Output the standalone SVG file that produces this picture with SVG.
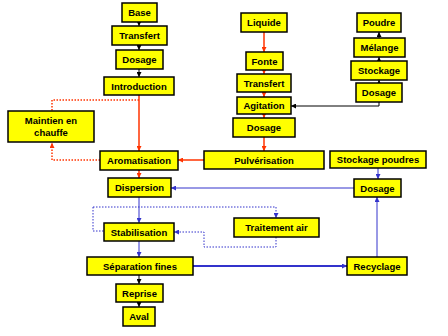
<svg xmlns="http://www.w3.org/2000/svg" width="448" height="336" viewBox="0 0 448 336">
<style>
.n rect{fill:#ffff00;stroke:#000;stroke-width:1.5}
.n text{font-family:"Liberation Sans",Arial,sans-serif;font-weight:bold;font-size:9.5px;text-anchor:middle;fill:#000}
.k{stroke:#000;stroke-width:1;fill:none}
.r{stroke:#ff3300;stroke-width:1.5;fill:none}
.rd{stroke:#ff3300;stroke-width:1.5;fill:none;stroke-dasharray:1.5 1.5}
.b{stroke:#3333cc;stroke-width:1;fill:none}
.bt{stroke:#3333cc;stroke-width:2;fill:none}
.bd{stroke:#3333cc;stroke-width:1;fill:none;stroke-dasharray:1.5 1.5}
</style>
<defs>
<marker id="ak" markerWidth="5" markerHeight="5" refX="5" refY="2.5" orient="auto" markerUnits="userSpaceOnUse"><path d="M0,0L5,2.5L0,5z" fill="#000"/></marker>
<marker id="ar" markerWidth="5" markerHeight="5" refX="5" refY="2.5" orient="auto" markerUnits="userSpaceOnUse"><path d="M0,0L5,2.5L0,5z" fill="#ff3300"/></marker>
<marker id="ab" markerWidth="5" markerHeight="5" refX="5" refY="2.5" orient="auto" markerUnits="userSpaceOnUse"><path d="M0,0L5,2.5L0,5z" fill="#3333cc"/></marker>
</defs>
<rect width="448" height="336" fill="#fff"/>
<g id="connectors">
<path class="k" d="M139,22V26" marker-end="url(#ak)"/>
<path class="k" d="M139,45V50" marker-end="url(#ak)"/>
<path class="k" d="M139,69V77" marker-end="url(#ak)"/>
<path class="r" d="M264,32V52" marker-end="url(#ar)"/>
<path class="r" d="M264,70V74" marker-end="url(#ar)"/>
<path class="r" d="M264,92V97" marker-end="url(#ar)"/>
<path class="r" d="M264,114V118" marker-end="url(#ar)"/>
<path class="r" d="M264,137V151" marker-end="url(#ar)"/>
<path class="r" d="M204,160H178" marker-end="url(#ar)"/>
<path class="r" d="M139,95V151" marker-end="url(#ar)"/>
<path class="r" d="M139,170V178" marker-end="url(#ar)"/>
<path class="rd" d="M139,100H52V111"/>
<path class="rd" d="M100,160H52V143" marker-end="url(#ar)"/>
<path class="k" d="M379,83V80" marker-end="url(#ak)"/>
<path class="k" d="M379,61V57" marker-end="url(#ak)"/>
<path class="k" d="M379,38V32" marker-end="url(#ak)"/>
<path class="k" d="M379,102V106H291" marker-end="url(#ak)"/>
<path class="b" d="M378,168V179" marker-end="url(#ab)"/>
<path class="b" d="M354,188H171" marker-end="url(#ab)"/>
<path class="b" d="M139,197V223" marker-end="url(#ab)"/>
<path class="b" d="M139,241V257" marker-end="url(#ab)"/>
<path class="bt" d="M193,266H347" marker-end="url(#ab)"/>
<path class="b" d="M377,257V197" marker-end="url(#ab)"/>
<path class="bd" d="M93,207H276V218" marker-end="url(#ab)"/>
<path class="bd" d="M93,207V231H104"/>
<path class="bd" d="M276,237V247H204V232H174" marker-end="url(#ab)"/>
<path class="k" d="M139,275V284" marker-end="url(#ak)"/>
<path class="k" d="M139,302V307" marker-end="url(#ak)"/>
</g>
<g id="base" class="n"><rect x="122" y="3" width="35" height="19"/><text x="139.5" y="16">Base</text></g>
<g id="transfert1" class="n"><rect x="112" y="26" width="55" height="19"/><text x="139.5" y="39">Transfert</text></g>
<g id="dosage1" class="n"><rect x="116" y="50" width="47" height="19"/><text x="139.5" y="63">Dosage</text></g>
<g id="introduction" class="n"><rect x="104" y="77" width="70" height="18"/><text x="139" y="89.5">Introduction</text></g>
<g id="liquide" class="n"><rect x="241" y="13" width="46" height="19"/><text x="264" y="26">Liquide</text></g>
<g id="fonte" class="n"><rect x="246" y="52" width="37" height="18"/><text x="264.5" y="64.5">Fonte</text></g>
<g id="transfert2" class="n"><rect x="237" y="74" width="54" height="18"/><text x="264" y="86.5">Transfert</text></g>
<g id="agitation" class="n"><rect x="237" y="97" width="54" height="17"/><text x="264" y="109">Agitation</text></g>
<g id="poudre" class="n"><rect x="357" y="13" width="44" height="19"/><text x="379" y="26">Poudre</text></g>
<g id="melange" class="n"><rect x="354" y="38" width="51" height="19"/><text x="379.5" y="51">Mélange</text></g>
<g id="stockage" class="n"><rect x="351" y="61" width="56" height="19"/><text x="379" y="74">Stockage</text></g>
<g id="dosage2" class="n"><rect x="356" y="83" width="46" height="19"/><text x="379" y="96">Dosage</text></g>
<g id="dosage3" class="n"><rect x="233" y="118" width="62" height="19"/><text x="264" y="131">Dosage</text></g>
<g id="maintien" class="n"><rect x="8" y="111" width="86" height="31"/><text x="51" y="124">Maintien en</text><text x="51" y="136">chauffe</text></g>
<g id="aromatisation" class="n"><rect x="100" y="151" width="78" height="19"/><text x="139" y="164">Aromatisation</text></g>
<g id="pulverisation" class="n"><rect x="204" y="151" width="120" height="18"/><text x="264" y="163.5">Pulvérisation</text></g>
<g id="stockagepoudres" class="n"><rect x="330" y="151" width="96" height="17"/><text x="378" y="163">Stockage poudres</text></g>
<g id="dispersion" class="n"><rect x="108" y="178" width="63" height="19"/><text x="139.5" y="191">Dispersion</text></g>
<g id="dosage4" class="n"><rect x="354" y="179" width="47" height="18"/><text x="377.5" y="191.5">Dosage</text></g>
<g id="traitementair" class="n"><rect x="234" y="218" width="85" height="19"/><text x="276.5" y="231">Traitement air</text></g>
<g id="stabilisation" class="n"><rect x="104" y="223" width="70" height="18"/><text x="139" y="235.5">Stabilisation</text></g>
<g id="separation" class="n"><rect x="87" y="257" width="106" height="18"/><text x="140" y="269.5">Séparation fines</text></g>
<g id="recyclage" class="n"><rect x="347" y="257" width="60" height="18"/><text x="377" y="269.5">Recyclage</text></g>
<g id="reprise" class="n"><rect x="116" y="284" width="47" height="18"/><text x="139.5" y="296.5">Reprise</text></g>
<g id="aval" class="n"><rect x="123" y="307" width="32" height="19"/><text x="139" y="320">Aval</text></g>
</svg>
